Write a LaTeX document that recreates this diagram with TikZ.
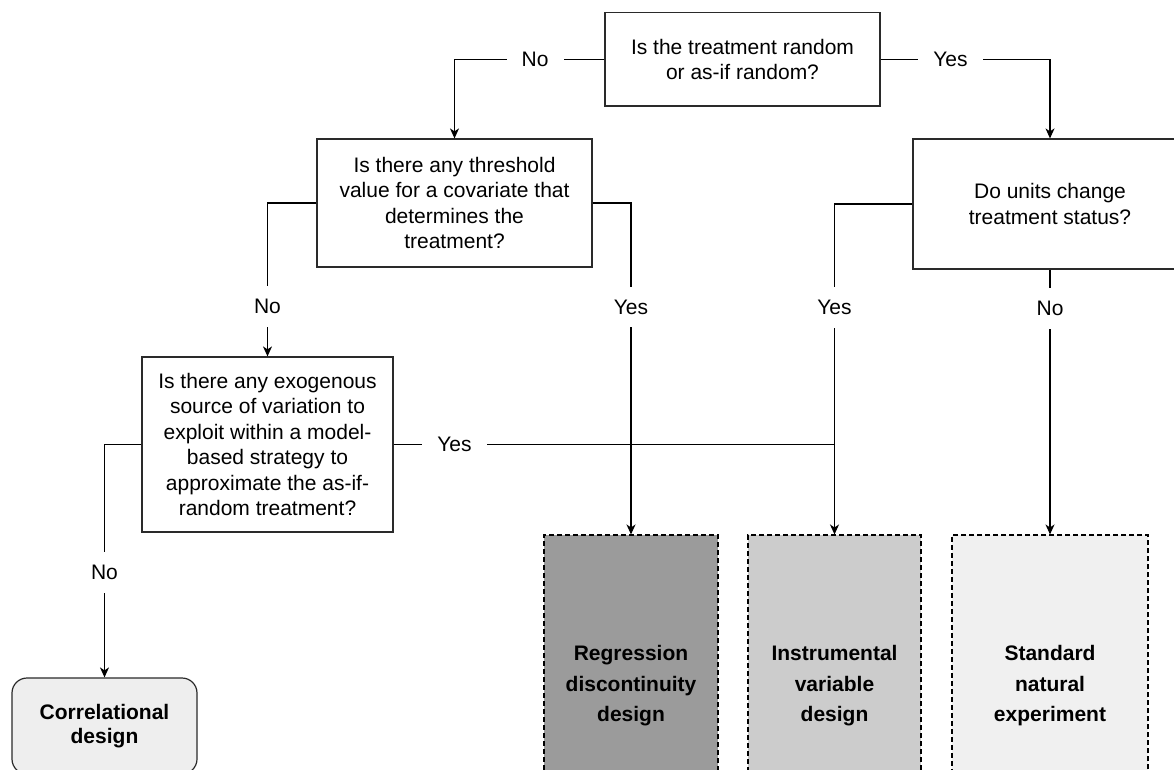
\documentclass[tikz,border=0pt]{standalone}
\usepackage{fontspec}
\setmainfont{Liberation Sans}
\usetikzlibrary{arrows.meta}
\definecolor{boxline}{HTML}{2A2A2A}
\definecolor{rdfill}{HTML}{9B9B9B}
\definecolor{ivfill}{HTML}{CCCCCC}
\definecolor{snefill}{HTML}{F0F0F0}
\definecolor{corrfill}{HTML}{EEEEEE}
\begin{document}
\begin{tikzpicture}[x=1pt,y=-1pt,
  qbox/.style={draw=boxline, line width=1.2pt, align=center, inner sep=0pt,
    font=\fontsize{21}{25.5}\selectfont},
  dbox/.style={draw=black, line width=1.1pt, dash pattern=on 5pt off 3pt, align=center,
    inner sep=0pt, font=\bfseries\fontsize{21}{30.5}\selectfont},
  corrbox/.style={draw=boxline, line width=1.2pt, rounded corners=15pt, fill=corrfill,
    align=center, inner sep=0pt, font=\bfseries\fontsize{21}{24.5}\selectfont},
  lab/.style={fill=white, inner xsep=15pt, inner ysep=13pt, font=\fontsize{21}{25.5}\selectfont},
  conn/.style={line width=1.2pt, draw=black},
  arr/.style={conn, -{Stealth[length=10pt,width=9pt,inset=3pt]}}
]
\useasboundingbox (0,0) rectangle (1174,769);
\clip (0,0) rectangle (1174,769);

% question boxes
\node[qbox, minimum width=275pt, minimum height=93.5pt] (Q1) at (742.5,59.25)
  {Is the treatment random\\or as-if random?};
\node[qbox, minimum width=275pt, minimum height=128pt] (Q2) at (454.5,203)
  {Is there any threshold\\value for a covariate that\\determines the\\treatment?};
\node[qbox, minimum width=251pt, minimum height=175pt] (Q3) at (267.5,444.5)
  {Is there any exogenous\\source of variation to\\exploit within a model-\\based strategy to\\approximate the as-if-\\random treatment?};
\node[qbox, minimum width=274pt, minimum height=130pt] (Q4) at (1050,204)
  {Do units change\\treatment status?};

% outcome boxes
\node[dbox, fill=rdfill, minimum width=174pt, minimum height=302pt] (RD) at (631,686)
  {Regression\\discontinuity\\design};
\node[dbox, fill=ivfill, minimum width=173pt, minimum height=302pt] (IV) at (834.5,686)
  {Instrumental\\variable\\design};
\node[dbox, fill=snefill, minimum width=196pt, minimum height=302pt] (SNE) at (1050,686)
  {Standard\\natural\\experiment};
\node[corrbox, minimum width=185pt, minimum height=96pt] (CORR) at (104.5,726)
  {Correlational\\design};

\coordinate (J) at (Q3.east -| IV.north);

% connectors
\draw[arr] (Q1.west) -| node[lab, pos=0.231] {No} (Q2.north);
\draw[arr] (Q1.east) -| node[lab, pos=0.206] {Yes} (Q4.north);
\draw[arr] (Q2.east) -| node[lab, pos=0.657] {Yes} (RD.north);
\draw[arr] (Q2.west) -| node[lab, pos=0.838] {No} (Q3.north);
\draw[arr] (Q3.west) -| node[lab, pos=0.775] {No} (CORR.north);
\draw[conn] (Q3.east) -- node[lab, pos=0.138] {Yes} (J);
\draw[arr] (Q4.west) -| node[lab, pos=0.657] {Yes} (IV.north);
\draw[arr] (Q4.south) -- node[lab, pos=0.147] {No} (SNE.north);
\end{tikzpicture}
\end{document}
